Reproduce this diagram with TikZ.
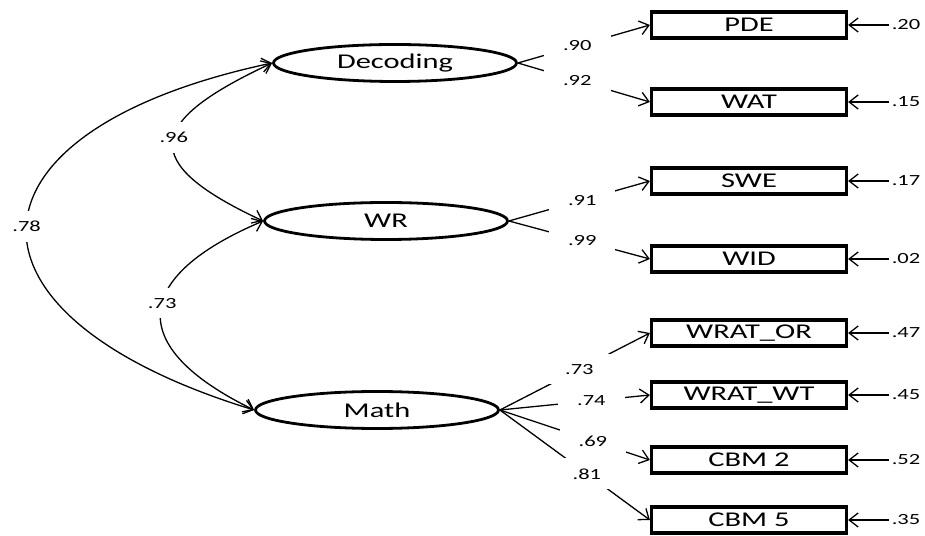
\documentclass[tikz,border=0pt]{standalone}
\usepackage{fontspec}
\setmainfont{Carlito}
\usepackage{graphicx}
\usetikzlibrary{arrows.meta,positioning,shapes.geometric}
\newcommand{\wt}[1]{\scalebox{1.45}[1]{#1}}
\tikzset{
  latent/.style={draw, ellipse, line width=2.8pt, minimum width=243pt, minimum height=37pt, inner sep=0pt, font=\fontsize{21}{24}\selectfont},
  obs/.style={draw, rectangle, line width=3.2pt, minimum width=195pt, minimum height=26pt, inner sep=0pt, font=\fontsize{21}{24}\selectfont},
  lab/.style={fill=white, inner xsep=19pt, inner ysep=10pt, font=\fontsize{15.5}{18}\selectfont},
  elab/.style={inner sep=2pt, font=\fontsize{15.5}{18}\selectfont}
}
\begin{document}
\begin{tikzpicture}[x=1pt, y=1pt, >={Straight Barb[length=9pt,width=14pt]}, line width=1.3pt]
\useasboundingbox (0,0) rectangle (925,535);
\node[latent] (dec) at (395,472) {\wt{Decoding}};
\node[latent] (wr) at (386,314) {\wt{WR}};
\node[latent] (math) at (377,125) {\wt{Math}};
\foreach \nm/\lbl/\y/\err in {pde/PDE/510/.20, wat/WAT/433/.15, swe/SWE/354/.17, wid/WID/276/.02, wor/WRAT\_OR/202/.47, wwt/WRAT\_WT/140/.45, cb2/CBM 2/75/.52, cb5/CBM 5/15/.35}{
  \node[obs] (\nm) at (749,\y) {\wt{\lbl}};
  \node[elab, right=41pt of \nm] (e\nm) {\wt{\err}};
  \draw[->] (e\nm) -- (\nm);
}
\foreach \src/\dst/\val/\p in {dec/pde/.90/.45, dec/wat/.92/.45, wr/swe/.91/.52, wr/wid/.99/.52, math/wor/.73/.53, math/wwt/.74/.61, math/cb2/.69/.62, math/cb5/.81/.58}
  \draw[->] (\src.east) -- node[lab, pos=\p]{\wt{\val}} (\dst.west);
\draw[<->] (dec.west) to[out=205, in=155, looseness=2.25] node[lab, pos=.47]{\wt{.96}} (wr.west);
\draw[<->] (wr.west) to[out=203, in=154, looseness=1.94] node[lab, pos=.45]{\wt{.73}} (math.west);
\draw[<->] (dec.west) to[out=192, in=163, looseness=2.4] node[lab]{\wt{.78}} (math.west);
\end{tikzpicture}
\end{document}
